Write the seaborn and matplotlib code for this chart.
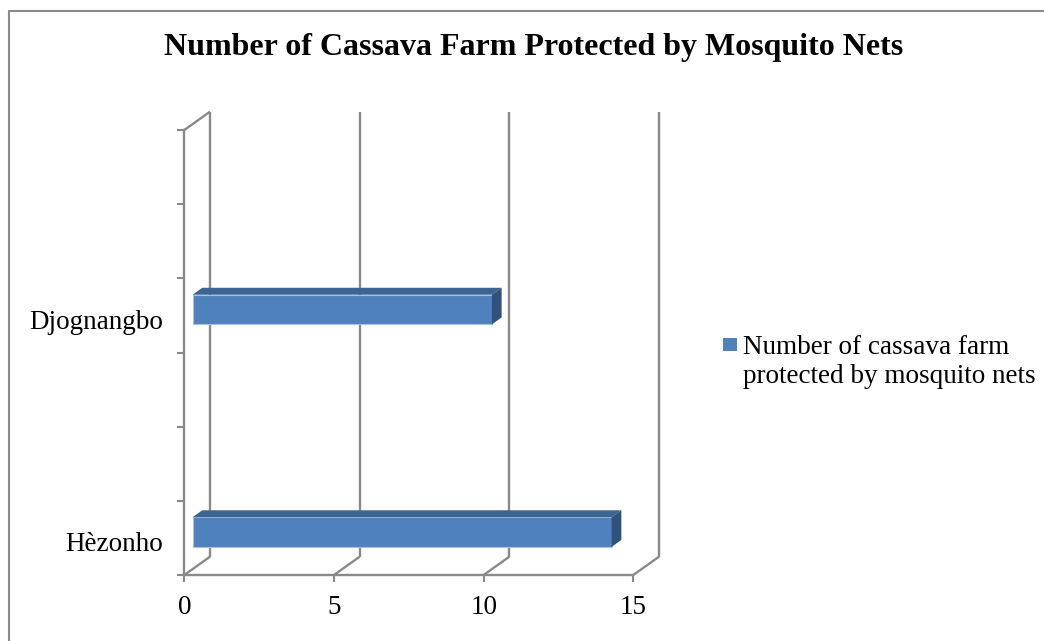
import numpy as np
import pandas as pd
import matplotlib
matplotlib.use("Agg")
import matplotlib.pyplot as plt
from matplotlib.patches import Polygon, Rectangle
from matplotlib.lines import Line2D
from matplotlib.transforms import ScaledTranslation
import seaborn as sns

# data, blank rows kept as in the source sheet
categories = ["Hèzonho", "", "", "Djognangbo", "", ""]
values = [14, np.nan, np.nan, 10, np.nan, np.nan]
x_ticks = [0, 5, 10, 15]
series_name = "Number of cassava farm\nprotected by mosquito nets"
title = "Number of Cassava Farm Protected by Mosquito Nets"

FRONT = "#4F81BD"
TOP = "#3C6592"
SIDE = "#30527A"
GRID = "#8A8A8A"
FS = 19.5

sns.set_theme(style="ticks")
plt.rcParams["font.family"] = ["Liberation Serif", "DejaVu Serif"]
plt.rcParams["text.color"] = "black"

W, H = 1044, 641
fig = plt.figure(figsize=(W / 100, H / 100), dpi=100)
ax = fig.add_axes([184.3 / W, 1 - 575 / H, 449 / W, 445 / H])

df = pd.DataFrame({"slot": np.arange(len(categories)), "value": values})
sns.barplot(data=df, x="value", y="slot", orient="h", color=FRONT,
            width=0.4, saturation=1, errorbar=None, ax=ax)

ax.set_xlim(x_ticks[0], x_ticks[-1])
ax.set_ylim(-0.5, len(categories) - 0.5)
ax.set_xlabel("")
ax.set_ylabel("")

# depth offset of the 3d box, in data units
p0 = ax.transData.transform((0, 0))
p1 = ax.transData.transform((1, 1))
ddx = 25.7 / (p1[0] - p0[0])
ddy = 18.3 / (p1[1] - p0[1])


def depth(x, y, f):
    return (x + f * ddx, y + f * ddy)


def seg(a, b, z=0.5):
    ax.add_line(Line2D([a[0], b[0]], [a[1], b[1]], color=GRID, lw=1.7,
                       clip_on=False, zorder=z, solid_capstyle="butt"))


y_lo, y_hi = ax.get_ylim()
for xv in x_ticks:
    # back wall line and floor diagonal
    seg(depth(xv, y_lo, 1), depth(xv, y_hi, 1))
    seg(depth(xv, y_lo, 0), depth(xv, y_lo, 1))
# top edge of left wall
seg(depth(0, y_hi, 0), depth(0, y_hi, 1))

for s in ["top", "right"]:
    ax.spines[s].set_visible(False)
for s in ["left", "bottom"]:
    ax.spines[s].set_color(GRID)
    ax.spines[s].set_linewidth(1.7)

# bars: move front face into the box and add top / side faces
f1, f2 = 0.32, 0.70
for bar in list(ax.patches):
    w = bar.get_width()
    if not np.isfinite(w) or w == 0:
        continue
    x0, y0, h = bar.get_x(), bar.get_y(), bar.get_height()
    x1, yt = x0 + w, y0 + h
    bar.set_xy(depth(x0, y0, f1))
    bar.set_edgecolor("#A9C1E0")
    bar.set_linewidth(0.8)
    bar.set_zorder(2)
    top = Polygon([depth(x0, yt, f1), depth(x1, yt, f1), depth(x1, yt, f2), depth(x0, yt, f2)],
                  closed=True, facecolor=TOP, edgecolor="none", zorder=2)
    side = Polygon([depth(x1, y0, f1), depth(x1, yt, f1), depth(x1, yt, f2), depth(x1, y0, f2)],
                   closed=True, facecolor=SIDE, edgecolor="none", zorder=2)
    ax.add_patch(top)
    ax.add_patch(side)

ax.set_xticks(x_ticks, labels=[str(v) for v in x_ticks])
ax.set_yticks(np.arange(-0.5, len(categories)), labels=[])
ax.set_yticks(np.arange(len(categories)), labels=categories, minor=True)
ax.tick_params(axis="x", length=5, width=1.5, color=GRID, labelsize=FS, pad=9.5, labelcolor="black")
ax.tick_params(axis="y", which="major", length=5, width=1.5, color=GRID)
ax.tick_params(axis="y", which="minor", length=0, pad=15, labelsize=FS, labelcolor="black")
shift = ScaledTranslation(0, -4 / 100, fig.dpi_scale_trans)
for lab in ax.get_yticklabels(minor=True):
    lab.set_transform(lab.get_transform() + shift)

# title and legend
fig.text(533.5 / W, 1 - 55.3 / H, title, ha="center", va="baseline",
         fontsize=23, fontweight="bold", color="black")
fig.add_artist(Rectangle((723 / W, 1 - 351 / H), 14 / W, 13 / H,
                         transform=fig.transFigure, facecolor=FRONT, edgecolor="none"))
fig.text(742.7 / W, 1 - 382.7 / H, series_name, ha="left", va="baseline",
         fontsize=FS, linespacing=1.18, color="black")

# chart border
fig.add_artist(Line2D([8.5 / W, 1], [1 - 11 / H, 1 - 11 / H], transform=fig.transFigure,
                      color=GRID, lw=1.5))
fig.add_artist(Line2D([8.5 / W, 8.5 / W], [0, 1 - 11 / H], transform=fig.transFigure,
                      color=GRID, lw=1.5))

fig.savefig("out.png", dpi=100)
